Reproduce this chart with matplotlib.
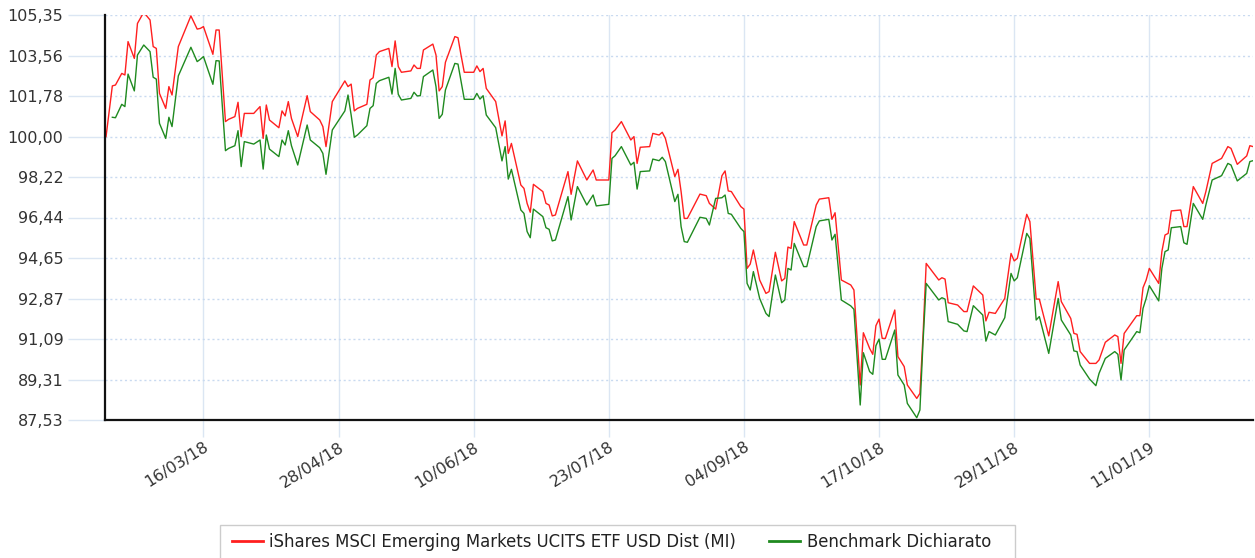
import numpy as np
import matplotlib
matplotlib.use("Agg")
import matplotlib.pyplot as plt
import matplotlib.dates as mdates
from matplotlib.patches import Rectangle

# data (days after start date, indexed values)
start_date = np.datetime64('2018-02-13')

day_offsets = [
    0, 2, 3, 5, 6, 7, 9, 10, 12, 14, 15, 16, 17, 19, 20, 21, 23, 27, 29, 30,
    31, 34, 35, 36, 38, 39, 41, 42, 43, 44, 47, 49, 50, 51, 52, 55, 56, 57, 58, 59,
    61, 64, 65, 68, 69, 70, 72, 76, 77, 78, 79, 80, 83, 84, 85, 86, 87, 90, 91, 92,
    93, 94, 97, 98, 99, 100, 101, 104, 105, 106, 107, 108, 111, 112, 113, 114, 117, 118, 119, 120,
    121, 124, 126, 127, 128, 129, 132, 133, 134, 135, 136, 139, 140, 141, 142, 143, 147, 148, 150, 153,
    155, 156, 160, 161, 162, 164, 167, 168, 169, 170, 173, 174, 176, 177, 178, 181, 182, 183, 184, 185,
    189, 191, 192, 194, 196, 197, 198, 199, 202, 203, 204, 205, 206, 208, 210, 211, 213, 215, 216, 217,
    218, 219, 222, 223, 226, 227, 230, 231, 232, 234, 237, 238, 240, 241, 243, 244, 245, 246, 247, 248,
    251, 252, 254, 255, 258, 259, 260, 261, 265, 266, 267, 268, 271, 273, 274, 276, 279, 280, 281, 283,
    286, 288, 289, 290, 293, 294, 296, 297, 300, 303, 304, 307, 308, 309, 310, 313, 315, 316, 318, 321,
    322, 323, 324, 328, 329, 330, 331, 332, 335, 336, 337, 338, 339, 342, 343, 344, 346, 349, 350, 352,
    355, 357, 358, 360, 363, 364, 365,
]

fund_values = [
    100.00, 102.23, 102.27, 102.78, 102.71, 104.18, 103.44, 104.98, 105.47, 105.13,
    103.96, 103.88, 101.90, 101.24, 102.20, 101.83, 103.96, 105.31, 104.73, 104.76,
    104.84, 103.62, 104.69, 104.69, 100.66, 100.76, 100.88, 101.51, 100.00, 101.02,
    101.02, 101.32, 99.92, 101.39, 100.73, 100.39, 101.13, 100.91, 101.54, 100.80,
    100.00, 101.80, 101.10, 100.73, 100.44, 99.56, 101.54, 102.45, 102.20, 102.31,
    101.13, 101.24, 101.42, 102.49, 102.59, 103.59, 103.74, 103.88, 103.08, 104.21,
    103.08, 102.83, 102.89, 103.15, 103.00, 103.00, 103.81, 104.07, 103.59, 102.01,
    102.20, 103.27, 104.40, 104.35, 103.56, 102.83, 102.83, 103.11, 102.86, 103.00,
    102.12, 101.54, 100.03, 100.69, 99.26, 99.70, 97.87, 97.72, 97.06, 96.67,
    97.90, 97.58, 97.06, 96.99, 96.51, 96.55, 98.46, 97.46, 98.93, 98.09,
    98.53, 98.09, 98.09, 100.17, 100.29, 100.66, 99.85, 100.00, 98.82, 99.53,
    99.56, 100.14, 100.07, 100.19, 99.92, 98.24, 98.56, 97.58, 96.40, 96.40,
    97.47, 97.40, 97.06, 96.81, 98.28, 98.49, 97.61, 97.58, 96.92, 96.81,
    94.20, 94.39, 95.01, 93.69, 93.10, 93.18, 94.91, 93.65, 93.76, 95.14,
    95.08, 96.26, 95.23, 95.23, 96.99, 97.25, 97.31, 96.36, 96.65, 93.69,
    93.47, 93.25, 89.07, 91.37, 90.68, 90.42, 91.68, 91.97, 91.12, 91.12,
    92.37, 90.32, 89.88, 89.07, 88.48, 88.70, 91.27, 94.42, 93.69, 93.79,
    93.73, 92.69, 92.59, 92.30, 92.30, 93.43, 93.03, 91.89, 92.27, 92.22,
    92.88, 94.86, 94.53, 94.64, 96.58, 96.26, 92.85, 92.85, 91.23, 93.62,
    92.74, 92.00, 91.34, 91.30, 90.54, 90.02, 90.02, 90.17, 90.95, 91.27,
    91.20, 90.02, 91.34, 92.12, 92.12, 93.35, 93.69, 94.20, 93.54, 94.94,
    95.67, 95.74, 96.73, 96.77, 96.04, 96.04, 97.80, 97.06, 97.58, 98.82,
    99.04, 99.56, 99.48, 98.78, 99.15, 99.60, 99.56,
]

benchmark_values = [
    np.nan, 100.85, 100.83, 101.42, 101.32, 102.75, 102.01, 103.59, 104.03, 103.74,
    102.61, 102.53, 100.58, 99.92, 100.85, 100.44, 102.67, 103.93, 103.30, 103.40,
    103.52, 102.30, 103.34, 103.33, 99.38, 99.48, 99.60, 100.26, 98.68, 99.78,
    99.67, 99.85, 98.57, 100.07, 99.45, 99.12, 99.85, 99.63, 100.26, 99.60,
    98.75, 100.51, 99.85, 99.51, 99.26, 98.34, 100.29, 101.13, 101.83, 100.95,
    99.97, 100.07, 100.48, 101.24, 101.36, 102.34, 102.46, 102.61, 101.87, 103.00,
    101.86, 101.61, 101.68, 101.95, 101.79, 101.80, 102.64, 102.93, 102.20, 100.80,
    100.98, 102.05, 103.22, 103.19, 102.42, 101.64, 101.64, 101.90, 101.65, 101.80,
    100.95, 100.39, 98.93, 99.56, 98.13, 98.56, 96.77, 96.62, 95.82, 95.55,
    96.81, 96.48, 95.99, 95.92, 95.41, 95.45, 97.36, 96.33, 97.80, 96.99,
    97.43, 96.95, 97.02, 99.04, 99.16, 99.56, 98.75, 98.87, 97.69, 98.46,
    98.49, 99.01, 98.94, 99.09, 98.90, 97.14, 97.46, 96.04, 95.38, 95.35,
    96.45, 96.40, 96.11, 97.28, 97.31, 97.43, 96.62, 96.58, 95.96, 95.82,
    93.54, 93.25, 94.06, 92.88, 92.22, 92.08, 93.91, 92.69, 92.81, 94.20,
    94.13, 95.30, 94.28, 94.28, 96.04, 96.29, 96.36, 95.45, 95.70, 92.81,
    92.55, 92.40, 88.19, 90.49, 89.66, 89.54, 90.80, 91.09, 90.20, 90.20,
    91.49, 89.51, 89.07, 88.26, 87.63, 87.97, 90.98, 93.54, 92.81, 92.91,
    92.85, 91.86, 91.74, 91.45, 91.42, 92.56, 92.15, 91.00, 91.42, 91.27,
    92.03, 93.98, 93.65, 93.79, 95.74, 95.52, 91.93, 92.08, 90.46, 92.88,
    91.93, 91.27, 90.57, 90.54, 89.95, 89.33, 89.04, 89.58, 90.24, 90.54,
    90.42, 89.29, 90.61, 91.42, 91.37, 92.44, 92.88, 93.44, 92.77, 94.20,
    94.94, 95.01, 95.99, 96.04, 95.33, 95.26, 97.06, 96.36, 96.99, 98.09,
    98.28, 98.82, 98.75, 98.05, 98.38, 98.90, 98.94,
]

y_ticks = [87.53, 89.31, 91.09, 92.87, 94.65, 96.44, 98.22, 100.00, 101.78, 103.56, 105.35]
x_tick_dates = ['2018-03-16', '2018-04-28', '2018-06-10', '2018-07-23',
                '2018-09-04', '2018-10-17', '2018-11-29', '2019-01-11']

fund_label = 'iShares MSCI Emerging Markets UCITS ETF USD Dist (MI)'
benchmark_label = 'Benchmark Dichiarato'

dates = start_date + np.array(day_offsets, dtype='timedelta64[D]')

fig = plt.figure(figsize=(12.55, 5.58), dpi=100)
ax = fig.add_axes([105 / 1255, 1 - 420 / 558, 1148 / 1255, 405 / 558])

grid_blue = '#dbe6f3'
text_col = '#333333'

ax.plot(dates, fund_values, color='#ff1f1f', lw=1.0, label=fund_label, zorder=3)
ax.plot(dates, benchmark_values, color='#1f8a1f', lw=1.0, label=benchmark_label, zorder=3)

ax.set_xlim(start_date - np.timedelta64(8, 'h'), start_date + np.timedelta64(365, 'D'))
ax.set_ylim(y_ticks[0], y_ticks[-1])

ax.set_yticks(y_ticks)
ax.set_yticklabels([f'{v:.2f}'.replace('.', ',') for v in y_ticks])
ax.set_xticks([np.datetime64(d) for d in x_tick_dates])
ax.xaxis.set_major_formatter(mdates.DateFormatter('%d/%m/%y'))

ax.tick_params(axis='y', length=27, width=1, color=grid_blue, pad=3,
               labelsize=11.5, labelcolor=text_col)
ax.tick_params(axis='x', length=12, width=1, color=grid_blue, pad=2,
               labelsize=11.5, labelcolor=text_col)
for lbl in ax.get_xticklabels():
    lbl.set_rotation(32)
    lbl.set_ha('right')
    lbl.set_rotation_mode('anchor')

ax.grid(axis='y', color='#c9daf0', linestyle=(0, (1.5, 2)), lw=1)
ax.grid(axis='x', color=grid_blue, linestyle='-', lw=1)
ax.set_axisbelow(True)

for s in ['top', 'right']:
    ax.spines[s].set_visible(False)
for s in ['left', 'bottom']:
    ax.spines[s].set_color('#111111')
    ax.spines[s].set_linewidth(1.6)
    ax.spines[s].set_zorder(4)

# legend box runs off the bottom edge of the image
fig.patches.append(Rectangle((220 / 1255, 1 - 570 / 558), 795 / 1255, 45 / 558,
                             transform=fig.transFigure, facecolor='white',
                             edgecolor='#cccccc', lw=1, zorder=1))
leg = fig.legend(loc='center left', bbox_to_anchor=(224 / 1255, 1 - 542 / 558),
                 ncol=2, frameon=False, fontsize=11.9,
                 handlelength=1.85, handletextpad=0.4, columnspacing=2.0,
                 borderpad=0.5, borderaxespad=0)
for line in leg.get_lines():
    line.set_linewidth(2)
for t in leg.get_texts():
    t.set_color('#222222')

fig.savefig('out.png', dpi=100)
